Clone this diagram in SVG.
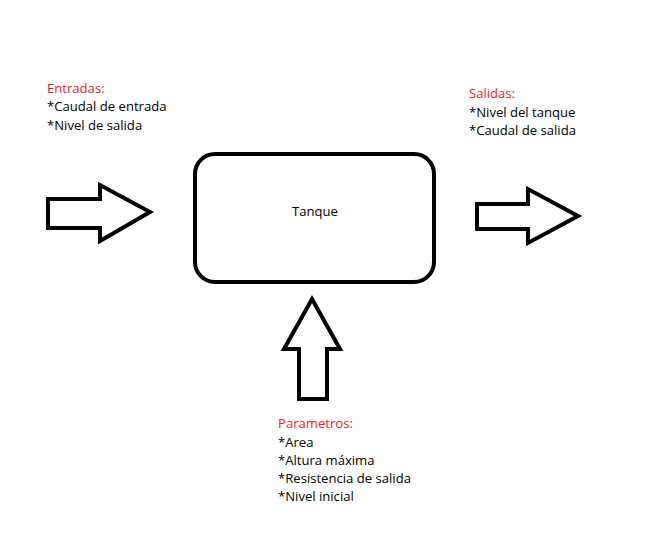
<svg xmlns="http://www.w3.org/2000/svg" width="650" height="545" viewBox="0 0 650 545">
<style>
.t{font-family:"Open Sans","Noto Sans","Liberation Sans",sans-serif;font-size:13.1px;fill:#000}
.r{fill:#ed1c24}
.s{fill:none;stroke:#000;stroke-width:4;stroke-linejoin:miter}
</style>
<rect width="650" height="545" fill="#fff"/>
<g id="tanque">
<rect class="s" x="195" y="154" width="239" height="128" rx="20" ry="20" fill="#fff"/>
<text class="t" x="315" y="216" text-anchor="middle">Tanque</text>
</g>
<g id="connectors">
<polygon id="arrow-in" class="s" points="48,199 100,199 100,185 150,212 100,241 100,228 48,228"/>
<polygon id="arrow-out" class="s" points="477,204 528,204 528,189 578,216 528,243 528,229 477,229"/>
<polygon id="arrow-param" class="s" points="312,299 340,349 327,349 327,399 299,399 299,349 284,349"/>
</g>
<g id="entradas">
<text class="t r" x="47" y="93">Entradas:</text>
<text class="t" x="47" y="111">*Caudal de entrada</text>
<text class="t" x="47" y="130">*Nivel de salida</text>
</g>
<g id="salidas">
<text class="t r" x="469" y="98">Salidas:</text>
<text class="t" x="469" y="117">*Nivel del tanque</text>
<text class="t" x="469" y="135">*Caudal de salida</text>
</g>
<g id="parametros">
<text class="t r" x="278" y="428">Parametros:</text>
<text class="t" x="278" y="447">*Area</text>
<text class="t" x="278" y="465">*Altura máxima</text>
<text class="t" x="278" y="483">*Resistencia de salida</text>
<text class="t" x="278" y="501">*Nivel inicial</text>
</g>
</svg>
